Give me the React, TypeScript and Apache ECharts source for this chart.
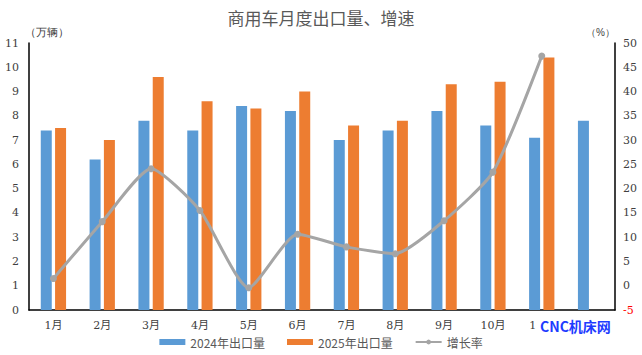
import React, { useEffect, useRef } from "react";
import * as echarts from "echarts";

const months = ["1月", "2月", "3月", "4月", "5月", "6月", "7月", "8月", "9月", "10月", "11月", "12月"];
const exports2024 = [7.4, 6.2, 7.8, 7.4, 8.4, 8.2, 7.0, 7.4, 8.2, 7.6, 7.1, 7.8];
const exports2025 = [7.5, 7.0, 9.6, 8.6, 8.3, 9.0, 7.6, 7.8, 9.3, 9.4, 10.4];
const growth = [1.5, 13.2, 24.1, 15.5, -0.4, 10.6, 8.0, 6.6, 13.4, 23.4, 47.3];

const serif = "'DejaVu Serif', 'Liberation Serif', 'Noto Sans CJK SC', serif";

export default function App() {
  const ref = useRef<HTMLDivElement>(null);
  useEffect(() => {
    document.body.style.margin = "0";
    const chart = echarts.init(ref.current!, null, { renderer: "svg" });
    chart.setOption({
      animation: false,
      title: {
        text: "商用车月度出口量、增速",
        left: "center",
        top: 4,
        textStyle: { fontSize: 17, fontWeight: "normal", color: "#595959", fontFamily: "'Noto Sans CJK SC', sans-serif" },
      },
      grid: { left: 29, right: 27, top: 43, bottom: 45 },
      legend: {
        bottom: 2,
        left: "center",
        itemWidth: 26,
        itemHeight: 6,
        itemGap: 22,
        textStyle: { fontSize: 12, color: "#595959", fontFamily: "'Noto Sans CJK SC', sans-serif" },
        data: [
          { name: "2024年出口量", icon: "rect" },
          { name: "2025年出口量", icon: "rect" },
          { name: "增长率" },
        ],
      },
      xAxis: {
        type: "category",
        data: months,
        axisLine: { lineStyle: { color: "#000", width: 1.5 } },
        axisTick: { show: false },
        axisLabel: { fontSize: 11, color: "#404040", fontFamily: serif, margin: 10 },
      },
      yAxis: [
        {
          type: "value",
          min: 0,
          max: 11,
          interval: 1,
          name: "（万辆）",
          nameLocation: "end",
          nameGap: 6,
          nameTextStyle: { fontSize: 11, color: "#404040", align: "left", padding: [0, 0, 0, -4] },
          axisLine: { show: true, lineStyle: { color: "#000", width: 1.5 } },
          axisTick: { show: false },
          splitLine: { show: false },
          axisLabel: { fontSize: 11, color: "#404040", fontFamily: serif, margin: 10 },
        },
        {
          type: "value",
          min: -5,
          max: 50,
          interval: 5,
          name: "（%）",
          nameLocation: "end",
          nameGap: 6,
          nameTextStyle: { fontSize: 10, color: "#404040", align: "right", padding: [0, 0, 0, 0] },
          axisLine: { show: true, lineStyle: { color: "#000", width: 1.5 } },
          axisTick: { show: false },
          splitLine: { show: false },
          axisLabel: {
            fontSize: 11,
            fontFamily: serif,
            margin: 8,
            color: (v: number) => (v < 0 ? "#ff0000" : "#404040"),
          },
        },
      ],
      series: [
        {
          name: "2024年出口量",
          type: "bar",
          data: exports2024,
          barWidth: 11,
          barGap: "30%",
          itemStyle: { color: "#5B9BD5" },
        },
        {
          name: "2025年出口量",
          type: "bar",
          data: exports2025,
          barWidth: 11,
          itemStyle: { color: "#ED7D31" },
        },
        {
          name: "增长率",
          type: "line",
          yAxisIndex: 1,
          data: growth,
          smooth: 0.2,
          symbol: "circle",
          symbolSize: 7,
          lineStyle: { color: "#A5A5A5", width: 3 },
          itemStyle: { color: "#A5A5A5" },
        },
      ],
      graphic: [
        {
          type: "text",
          left: 537,
          top: 318,
          style: {
            text: "CNC机床网",
            fill: "#1E3CFF",
            font: "bold 14px 'Noto Sans CJK SC', sans-serif",
            backgroundColor: "#ffffff",
            padding: [1, 2, 1, 3],
          },
          z: 100,
        },
      ],
    });
    return () => chart.dispose();
  }, []);
  return <div ref={ref} style={{ width: 642, height: 355 }} />;
}
